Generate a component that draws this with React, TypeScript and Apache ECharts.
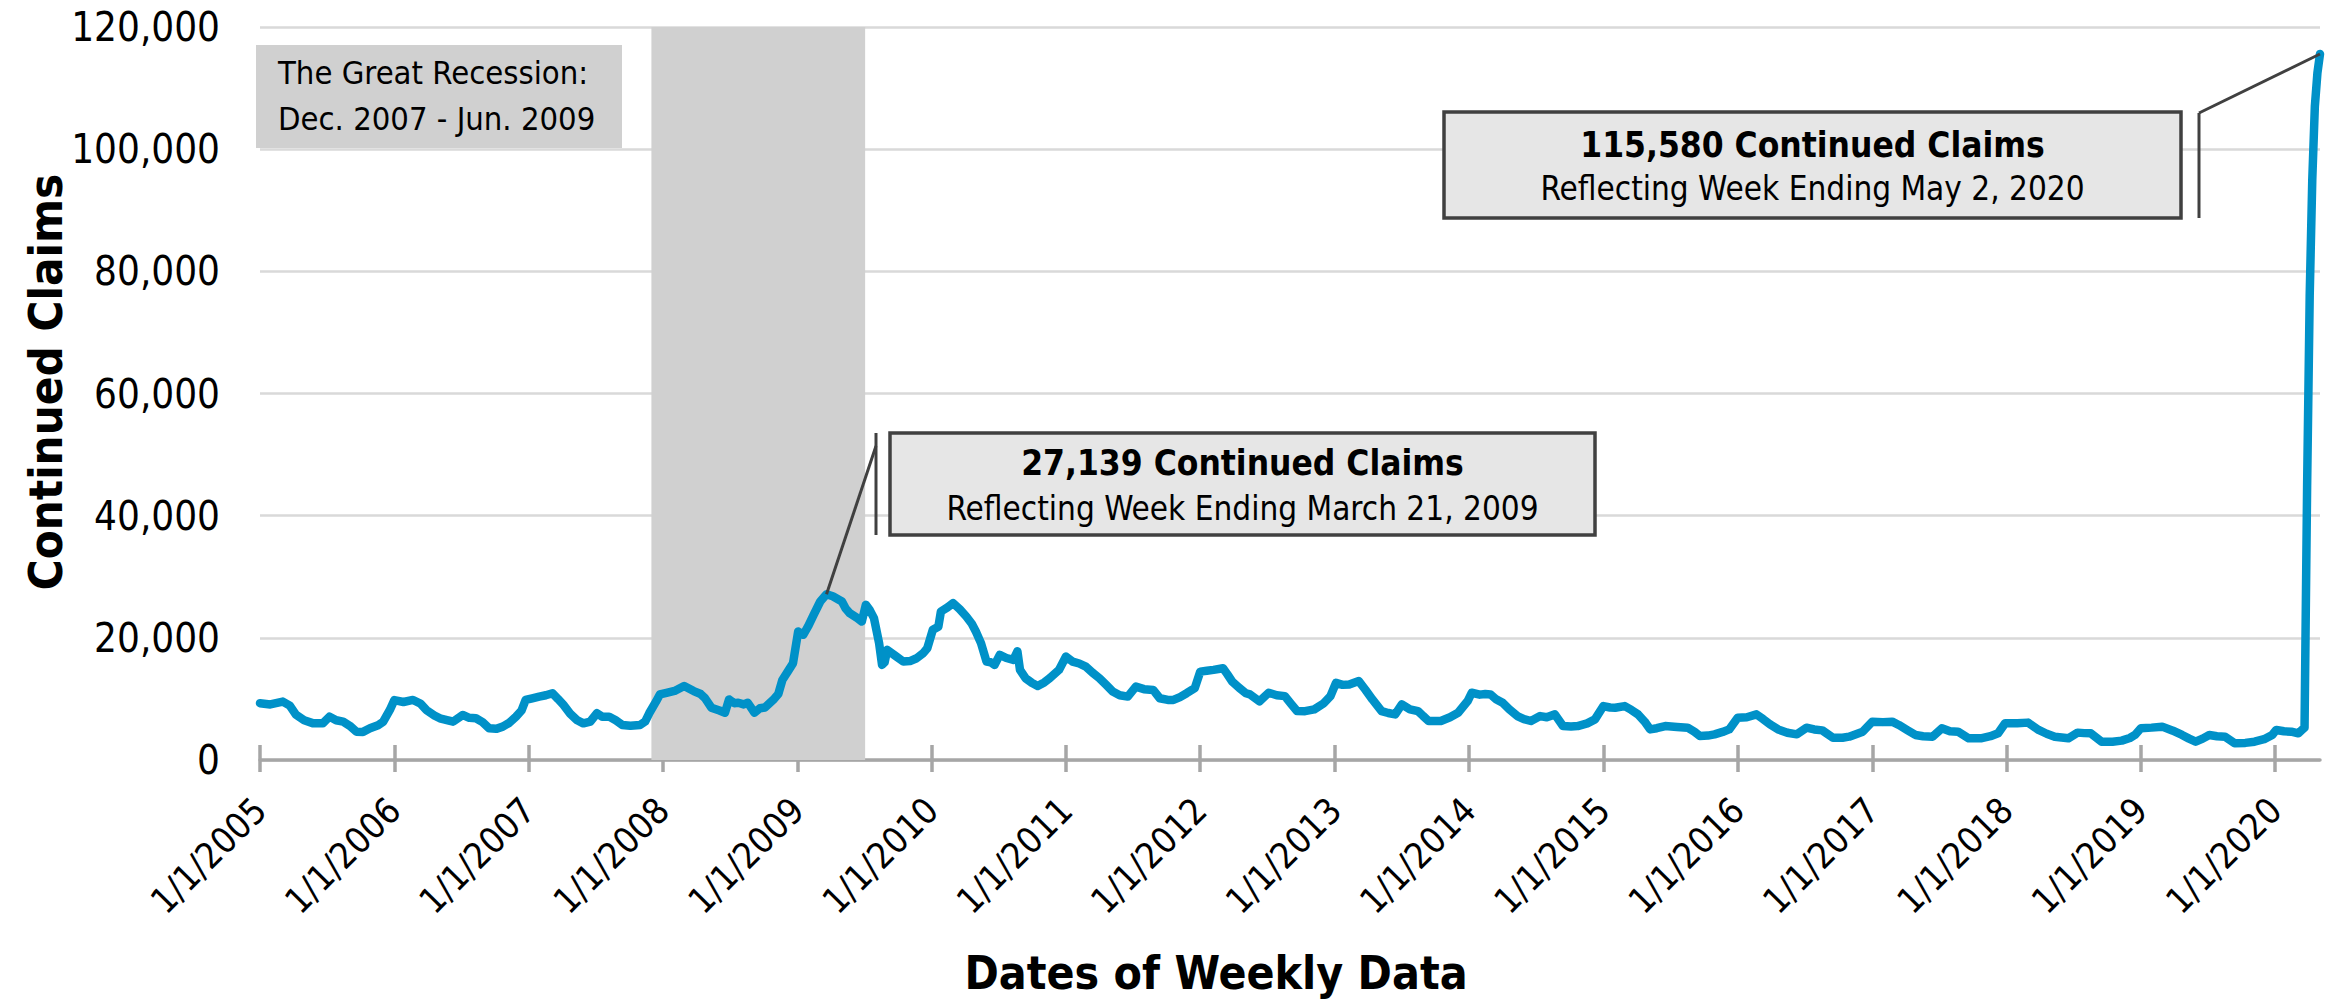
import React, { useEffect, useRef } from "react";
import * as echarts from "echarts";

const FONT = "'DejaVu Sans Condensed', 'Liberation Sans', sans-serif";

// Weekly continued claims (approximate)
const weekDates: string[] = [
  "2005-01-01","2005-01-29","2005-03-04","2005-03-23","2005-04-09","2005-05-01","2005-05-26","2005-06-21","2005-07-09","2005-07-27",
  "2005-08-15","2005-09-02","2005-09-20","2005-10-08","2005-10-27","2005-11-18","2005-12-02","2005-12-20",
  "2006-01-01","2006-01-26","2006-02-21","2006-03-14","2006-03-29","2006-04-20","2006-05-05","2006-05-27","2006-06-10","2006-07-06",
  "2006-07-24","2006-08-11","2006-08-29","2006-09-16","2006-10-05","2006-10-23","2006-11-10","2006-11-28","2006-12-13","2006-12-24",
  "2007-01-11","2007-01-30","2007-02-17","2007-03-07","2007-03-22","2007-04-06","2007-04-24","2007-05-12","2007-05-30","2007-06-18",
  "2007-07-06","2007-07-20","2007-08-08","2007-08-26","2007-09-13","2007-10-05","2007-10-31","2007-11-14","2007-11-25","2007-12-13","2007-12-24",
  "2008-01-11","2008-02-02","2008-02-28","2008-03-25","2008-04-13","2008-04-24","2008-05-12","2008-06-03","2008-06-18","2008-06-29",
  "2008-07-13","2008-07-24","2008-08-08","2008-08-19","2008-09-06","2008-09-21","2008-10-05","2008-10-27","2008-11-10","2008-11-21",
  "2008-12-06","2008-12-20",
  "2009-01-03","2009-01-17","2009-01-31","2009-02-14","2009-03-04","2009-03-21","2009-04-07","2009-05-02","2009-05-12","2009-05-23",
  "2009-06-11","2009-06-25","2009-07-06","2009-07-17","2009-07-28","2009-08-11","2009-08-19","2009-08-26","2009-09-02","2009-09-23",
  "2009-10-16","2009-11-03","2009-11-21","2009-12-09","2009-12-20",
  "2010-01-04","2010-01-19","2010-01-26","2010-02-13","2010-02-28","2010-03-18","2010-04-05","2010-04-20","2010-05-01","2010-05-15",
  "2010-05-30","2010-06-10","2010-06-21","2010-07-05","2010-07-23","2010-08-11","2010-08-22","2010-08-29","2010-09-13","2010-10-01",
  "2010-10-16","2010-11-03","2010-11-18","2010-12-13",
  "2011-01-01","2011-01-19","2011-02-06","2011-02-24","2011-03-14","2011-04-02","2011-04-20","2011-05-08","2011-05-27","2011-06-18",
  "2011-07-10","2011-08-01","2011-08-26","2011-09-13","2011-10-05","2011-10-20","2011-11-07","2011-11-25","2011-12-17",
  "2012-01-01","2012-01-19","2012-02-06","2012-03-03","2012-03-14","2012-03-28","2012-04-16","2012-05-04","2012-05-15","2012-06-10",
  "2012-07-05","2012-07-27","2012-08-18","2012-09-05","2012-09-20","2012-10-12","2012-11-06","2012-12-02","2012-12-20",
  "2013-01-04","2013-01-22","2013-02-09","2013-03-07","2013-03-25","2013-04-13","2013-05-08","2013-05-26","2013-06-14","2013-07-02",
  "2013-07-24","2013-08-15","2013-08-29","2013-09-13","2013-10-16","2013-11-10","2013-12-02","2013-12-28",
  "2014-01-08","2014-01-30","2014-02-14","2014-02-28","2014-03-14","2014-04-02","2014-04-20","2014-05-12","2014-05-30","2014-06-18",
  "2014-07-13","2014-07-31","2014-08-22","2014-09-13","2014-10-05","2014-10-23","2014-11-18","2014-12-09",
  "2015-01-01","2015-01-19","2015-02-02","2015-02-28","2015-03-18","2015-04-05","2015-04-23","2015-05-08","2015-05-26","2015-06-18",
  "2015-07-20","2015-08-18","2015-09-06","2015-09-20","2015-10-12","2015-10-30","2015-11-21","2015-12-09",
  "2016-01-01","2016-01-26","2016-02-21","2016-03-10","2016-03-29","2016-04-20","2016-05-15","2016-06-10","2016-07-06","2016-07-27",
  "2016-08-18","2016-09-16","2016-10-12","2016-10-30","2016-12-06",
  "2017-01-01","2017-01-30","2017-02-24","2017-03-14","2017-04-06","2017-04-28","2017-05-19","2017-06-14","2017-07-09","2017-07-31",
  "2017-08-22","2017-09-20","2017-10-23","2017-11-18","2017-12-09","2017-12-28",
  "2018-01-30","2018-02-28","2018-03-29","2018-04-20","2018-05-12","2018-06-18","2018-07-13","2018-07-31","2018-08-18","2018-09-16",
  "2018-10-16","2018-11-10","2018-12-02","2018-12-16",
  "2019-01-01","2019-01-30","2019-02-28","2019-03-29","2019-04-23","2019-05-12","2019-05-30","2019-06-18","2019-07-06","2019-07-27",
  "2019-08-18","2019-09-13","2019-10-12","2019-11-06","2019-12-02","2019-12-24",
  "2020-01-04","2020-01-25","2020-02-14","2020-03-04","2020-03-14","2020-03-21","2020-03-28","2020-04-04","2020-04-11","2020-04-18",
  "2020-04-25","2020-05-02",
];

const continuedClaims: number[] = [
  9300,9100,9560,8900,7400,6500,6000,6000,7100,6500,
  6280,5600,4640,4600,5190,5700,6280,8200,
  9800,9500,9830,9200,8200,7300,6830,6500,6280,7380,
  6900,6830,6200,5190,5100,5460,6100,7100,8100,9830,
  10100,10380,10600,10930,10000,9010,7600,6560,6000,6300,
  7650,7100,7100,6500,5740,5600,5740,6300,7650,9500,10740,
  11000,11300,12100,11280,10800,10190,8560,8100,7740,9920,
  9300,9370,9100,9370,7740,8470,8600,9830,10800,13100,
  14500,15850,
  21030,20500,22000,23770,25950,27139,26800,25950,24800,24040,
  23300,22670,25400,24500,23220,19130,15570,16000,18030,17100,
  16110,16200,16660,17500,18300,
  21310,21800,24310,25000,25680,24700,23490,22300,21030,19130,
  16110,16000,15570,17210,16700,16390,17800,14750,13390,12600,
  12130,12700,13390,14750,
  16930,16110,15800,15290,14300,13390,12300,11200,10600,10380,
  12010,11600,11470,10110,9830,9830,10300,10930,11750,
  14470,14600,14750,15020,14100,12830,11800,10930,10740,9600,
  11010,10600,10460,9100,8010,8000,8280,9300,10460,
  12640,12300,12370,12920,11500,9920,8010,7700,7470,9100,
  8300,8010,7200,6380,6380,7000,7740,9650,
  11010,10700,10800,10740,10000,9370,8300,7190,6700,6380,
  7190,7000,7470,5560,5500,5560,6000,6650,
  8830,8600,8560,8830,8200,7470,6300,5010,5200,5560,
  5400,5290,4600,3920,4000,4200,4600,5010,
  6920,7000,7470,6700,5830,5000,4470,4200,5290,5000,
  4850,3650,3650,3820,4640,
  6280,6200,6280,5740,4900,4100,3900,3820,5190,4700,
  4640,3550,3550,3900,4370,6010,
  6000,6120,4920,4300,3820,3550,4480,4400,4370,3000,
  3000,3170,3600,4100,
  5190,5300,5460,4800,4100,3500,3000,3500,4100,3900,
  3820,2730,2800,3000,3400,4100,
  4920,4700,4640,4370,4920,5300,45000,76000,95000,107000,
  112500,115580,
];

const tickYears: number[] = [2005,2006,2007,2008,2009,2010,2011,2012,2013,2014,2015,2016,2017,2018,2019,2020];
const axisStart = "2005-01-01";
const axisEnd = "2020-05-02";
const yMax = 120000;
const yStep = 20000;

const recessionSpan: string[] = ["2007-12-01", "2009-07-04"];
const recessionText: string[] = ["The Great Recession:", "Dec. 2007 - Jun. 2009"];

const callout2009 = { date: "2009-03-21", value: 27139, title: "27,139 Continued Claims", sub: "Reflecting Week Ending March 21, 2009" };
const callout2020 = { date: "2020-05-02", value: 115580, title: "115,580 Continued Claims", sub: "Reflecting Week Ending May 2, 2020" };

const xTitle = "Dates of Weekly Data";
const yTitle = "Continued Claims";

// date string -> UTC timestamp (ms), used on a linear value axis
const toMs = (s: string) => {
  const [y, m, d] = s.split("-").map(Number);
  return Date.UTC(y, m - 1, d);
};

export default function App() {
  const ref = useRef<HTMLDivElement>(null);

  useEffect(() => {
    if (!ref.current) return;
    const chart = echarts.init(ref.current, undefined, { renderer: "svg" });
    const tickVals = tickYears.map((y) => Date.UTC(y, 0, 1));
    const xMin = toMs(axisStart);
    const xMax = toMs(axisEnd);
    const axisGray = "#a6a6a6";

    const option: any = {
      animation: false,
      backgroundColor: "#ffffff",
      grid: { left: 260, right: 8, top: 27, bottom: 241, containLabel: false, outerBoundsMode: "none" },
      xAxis: [
        {
          type: "value",
          min: xMin,
          max: xMax,
          axisLine: { show: true, lineStyle: { color: axisGray, width: 3.5 } },
          axisTick: { show: true, customValues: tickVals, length: 12, lineStyle: { color: axisGray, width: 3.5 } },
          axisLabel: {
            customValues: tickVals,
            rotate: 45,
            fontSize: 36,
            fontFamily: FONT,
            color: "#000",
            margin: 44,
            formatter: (v: number) => `1/1/${new Date(v).getUTCFullYear()}`,
          },
          splitLine: { show: false },
        },
        {
          type: "value",
          min: xMin,
          max: xMax,
          position: "bottom",
          axisLine: { show: false },
          axisTick: { show: true, inside: true, customValues: tickVals, length: 15, lineStyle: { color: axisGray, width: 3.5 } },
          axisLabel: { show: false },
          splitLine: { show: false },
        },
      ],
      yAxis: {
        type: "value",
        min: 0,
        max: yMax,
        interval: yStep,
        axisLine: { show: false },
        axisTick: { show: false },
        splitLine: { show: true, lineStyle: { color: "#d9d9d9", width: 2.5 } },
        axisLabel: {
          fontSize: 40,
          fontFamily: FONT,
          color: "#000",
          margin: 40,
          formatter: (v: number) => v.toLocaleString("en-US"),
        },
      },
      series: [
        {
          type: "line",
          data: weekDates.map((d, i) => [toMs(d), continuedClaims[i]]),
          showSymbol: false,
          symbol: "none",
          lineStyle: { color: "#0091c8", width: 8.5, join: "round", cap: "round" },
          z: 5,
          markArea: {
            silent: true,
            itemStyle: { color: "#d0d0d0" },
            data: [[{ xAxis: toMs(recessionSpan[0]) }, { xAxis: toMs(recessionSpan[1]) }]],
          },
        },
      ],
    };
    chart.setOption(option);

    const p09 = chart.convertToPixel({ xAxisIndex: 0, yAxisIndex: 0 }, [toMs(callout2009.date), callout2009.value]) as number[];
    const p20 = chart.convertToPixel({ xAxisIndex: 0, yAxisIndex: 0 }, [toMs(callout2020.date), callout2020.value]) as number[];

    const dark = "#404040";
    const box1 = { x: 890, y: 433, w: 705, h: 102 };
    const box2 = { x: 1444, y: 112, w: 737, h: 106 };
    const titleStyle = { fontSize: 35, fontWeight: "bold", fontFamily: FONT, fill: "#000", align: "center", verticalAlign: "middle" };
    const subStyle = { fontSize: 33, fontFamily: FONT, fill: "#000", align: "center", verticalAlign: "middle" };

    const graphic: any[] = [
      { type: "rect", shape: { x: 256, y: 45, width: 366, height: 103 }, style: { fill: "#d0d0d0" }, z: 10 },
      { type: "text", x: 278, y: 73, z: 11, style: { text: recessionText[0], fontSize: 32.5, fontFamily: FONT, fill: "#000", align: "left", verticalAlign: "middle" } },
      { type: "text", x: 278, y: 119, z: 11, style: { text: recessionText[1], fontSize: 32.5, fontFamily: FONT, fill: "#000", align: "left", verticalAlign: "middle" } },
      { type: "rect", shape: { x: box1.x, y: box1.y, width: box1.w, height: box1.h }, style: { fill: "#e6e6e6", stroke: dark, lineWidth: 3.5 }, z: 10 },
      { type: "text", x: box1.x + box1.w / 2, y: 463, z: 11, style: { ...titleStyle, text: callout2009.title } },
      { type: "text", x: box1.x + box1.w / 2, y: 508, z: 11, style: { ...subStyle, text: callout2009.sub } },
      { type: "line", shape: { x1: 876, y1: 433, x2: 876, y2: 535 }, style: { stroke: dark, lineWidth: 3 }, z: 10 },
      { type: "line", shape: { x1: 876, y1: 446, x2: p09[0], y2: p09[1] }, style: { stroke: dark, lineWidth: 3 }, z: 10 },
      { type: "rect", shape: { x: box2.x, y: box2.y, width: box2.w, height: box2.h }, style: { fill: "#e6e6e6", stroke: dark, lineWidth: 3.5 }, z: 10 },
      { type: "text", x: box2.x + box2.w / 2, y: 145, z: 11, style: { ...titleStyle, text: callout2020.title } },
      { type: "text", x: box2.x + box2.w / 2, y: 188, z: 11, style: { ...subStyle, text: callout2020.sub } },
      { type: "line", shape: { x1: 2199, y1: 113, x2: 2199, y2: 218 }, style: { stroke: dark, lineWidth: 3 }, z: 10 },
      { type: "line", shape: { x1: 2199, y1: 113, x2: p20[0], y2: p20[1] }, style: { stroke: dark, lineWidth: 3 }, z: 10 },
      { type: "text", x: 1216, y: 973, z: 11, style: { text: xTitle, fontSize: 46, lineHeight: 50, fontWeight: "bold", fontFamily: FONT, fill: "#000", align: "center", verticalAlign: "middle" } },
      { type: "text", x: 45, y: 382, rotation: Math.PI / 2, z: 11, style: { text: yTitle, fontSize: 47, fontWeight: "bold", fontFamily: FONT, fill: "#000", align: "center", verticalAlign: "middle" } },
    ];
    chart.setOption({ graphic });

    return () => chart.dispose();
  }, []);

  return (
    <div
      ref={ref}
      style={{ position: "fixed", left: 0, top: 0, width: 2328, height: 1001, background: "#fff" }}
    />
  );
}
